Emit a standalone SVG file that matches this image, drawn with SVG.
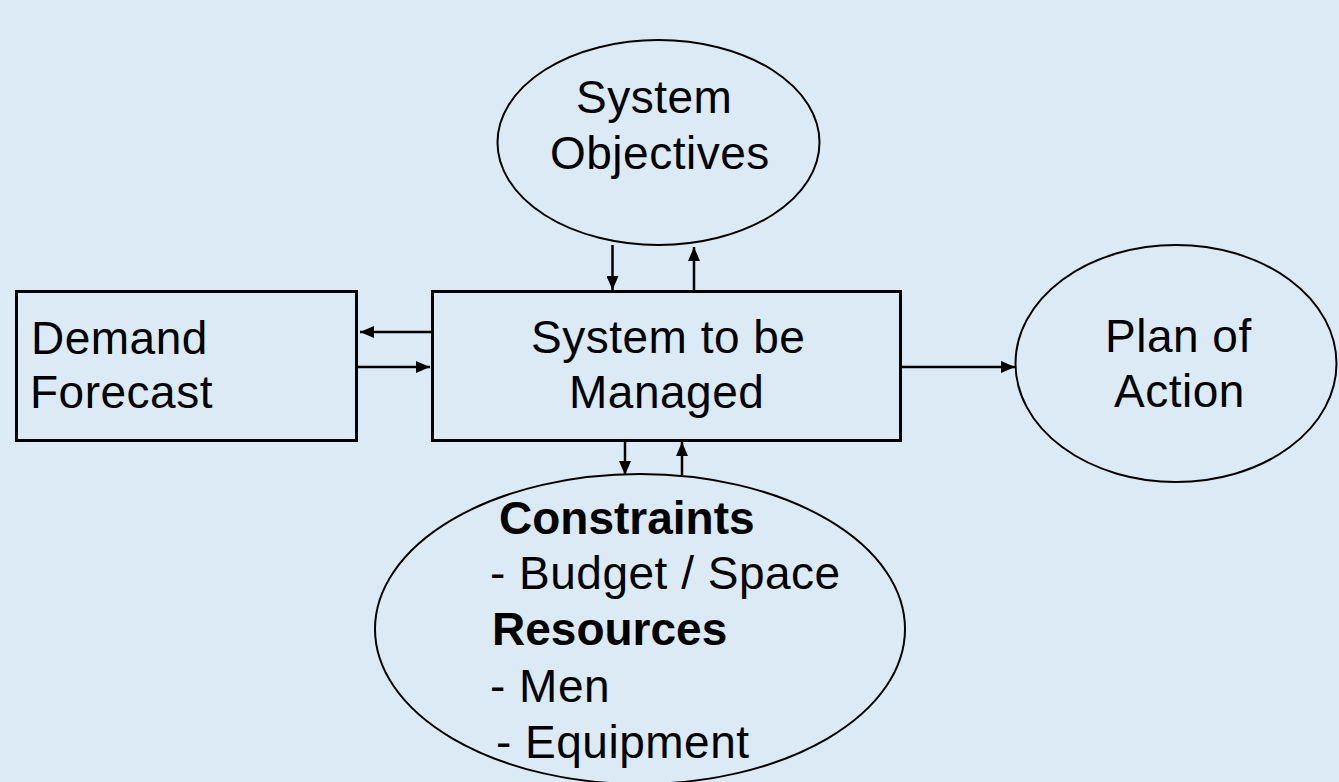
<svg xmlns="http://www.w3.org/2000/svg" width="1339" height="782" viewBox="0 0 1339 782">
  <style>
    .bg { fill: #DCEAF6; }
    .box { fill: none; stroke: #000; stroke-width: 3; }
    .oval { fill: none; stroke: #000; stroke-width: 2; }
    .link { fill: none; stroke: #000; stroke-width: 2.5; }
    .lbl { font-family: "Liberation Sans", Arial, sans-serif; font-size: 46px; fill: #000; letter-spacing: 0.5px; }
    .bold { font-weight: bold; letter-spacing: 0; }
  </style>
  <defs>
    <marker id="head" viewBox="0 0 14 12" refX="14" refY="6" markerWidth="14" markerHeight="12" markerUnits="userSpaceOnUse" orient="auto">
      <path d="M0,0 L14,6 L0,12 z" fill="#000"/>
    </marker>
  </defs>

  <rect class="bg" x="0" y="0" width="1339" height="782"/>

  <!-- System Objectives -->
  <g id="objectives">
    <ellipse class="oval" cx="658.5" cy="142.5" rx="161" ry="102.5"/>
    <text class="lbl" x="576" y="113">System</text>
    <text class="lbl" x="550" y="169">Objectives</text>
  </g>

  <!-- Demand Forecast -->
  <g id="demand">
    <rect class="box" x="16.5" y="291.5" width="340" height="149"/>
    <text class="lbl" x="31" y="354">Demand</text>
    <text class="lbl" x="30" y="408">Forecast</text>
  </g>

  <!-- System to be Managed -->
  <g id="system">
    <rect class="box" x="432.5" y="291.5" width="468" height="149"/>
    <text class="lbl" x="531" y="353">System to be</text>
    <text class="lbl" x="569" y="408">Managed</text>
  </g>

  <!-- Plan of Action -->
  <g id="plan">
    <ellipse class="oval" cx="1176" cy="363.5" rx="160.5" ry="118.5"/>
    <text class="lbl" x="1105" y="352">Plan of</text>
    <text class="lbl" x="1114" y="407">Action</text>
  </g>

  <!-- Constraints / Resources -->
  <g id="constraints">
    <ellipse class="oval" cx="640" cy="629" rx="265" ry="155"/>
    <text class="lbl bold" x="499" y="534">Constraints</text>
    <text class="lbl" x="490" y="589">- Budget / Space</text>
    <text class="lbl bold" x="492" y="645">Resources</text>
    <text class="lbl" x="490" y="702">- Men</text>
    <text class="lbl" x="496" y="758">- Equipment</text>
  </g>

  <!-- Connectors -->
  <g id="connectors">
    <line class="link" x1="612.5" y1="245" x2="612.5" y2="290" marker-end="url(#head)"/>
    <line class="link" x1="694" y1="290" x2="694" y2="247" marker-end="url(#head)"/>
    <line class="link" x1="431" y1="332" x2="360" y2="332" marker-end="url(#head)"/>
    <line class="link" x1="357" y1="367" x2="430" y2="367" marker-end="url(#head)"/>
    <line class="link" x1="901" y1="367" x2="1015" y2="367" marker-end="url(#head)"/>
    <line class="link" x1="625" y1="441" x2="625" y2="475" marker-end="url(#head)"/>
    <line class="link" x1="682" y1="475" x2="682" y2="442" marker-end="url(#head)"/>
  </g>
</svg>
